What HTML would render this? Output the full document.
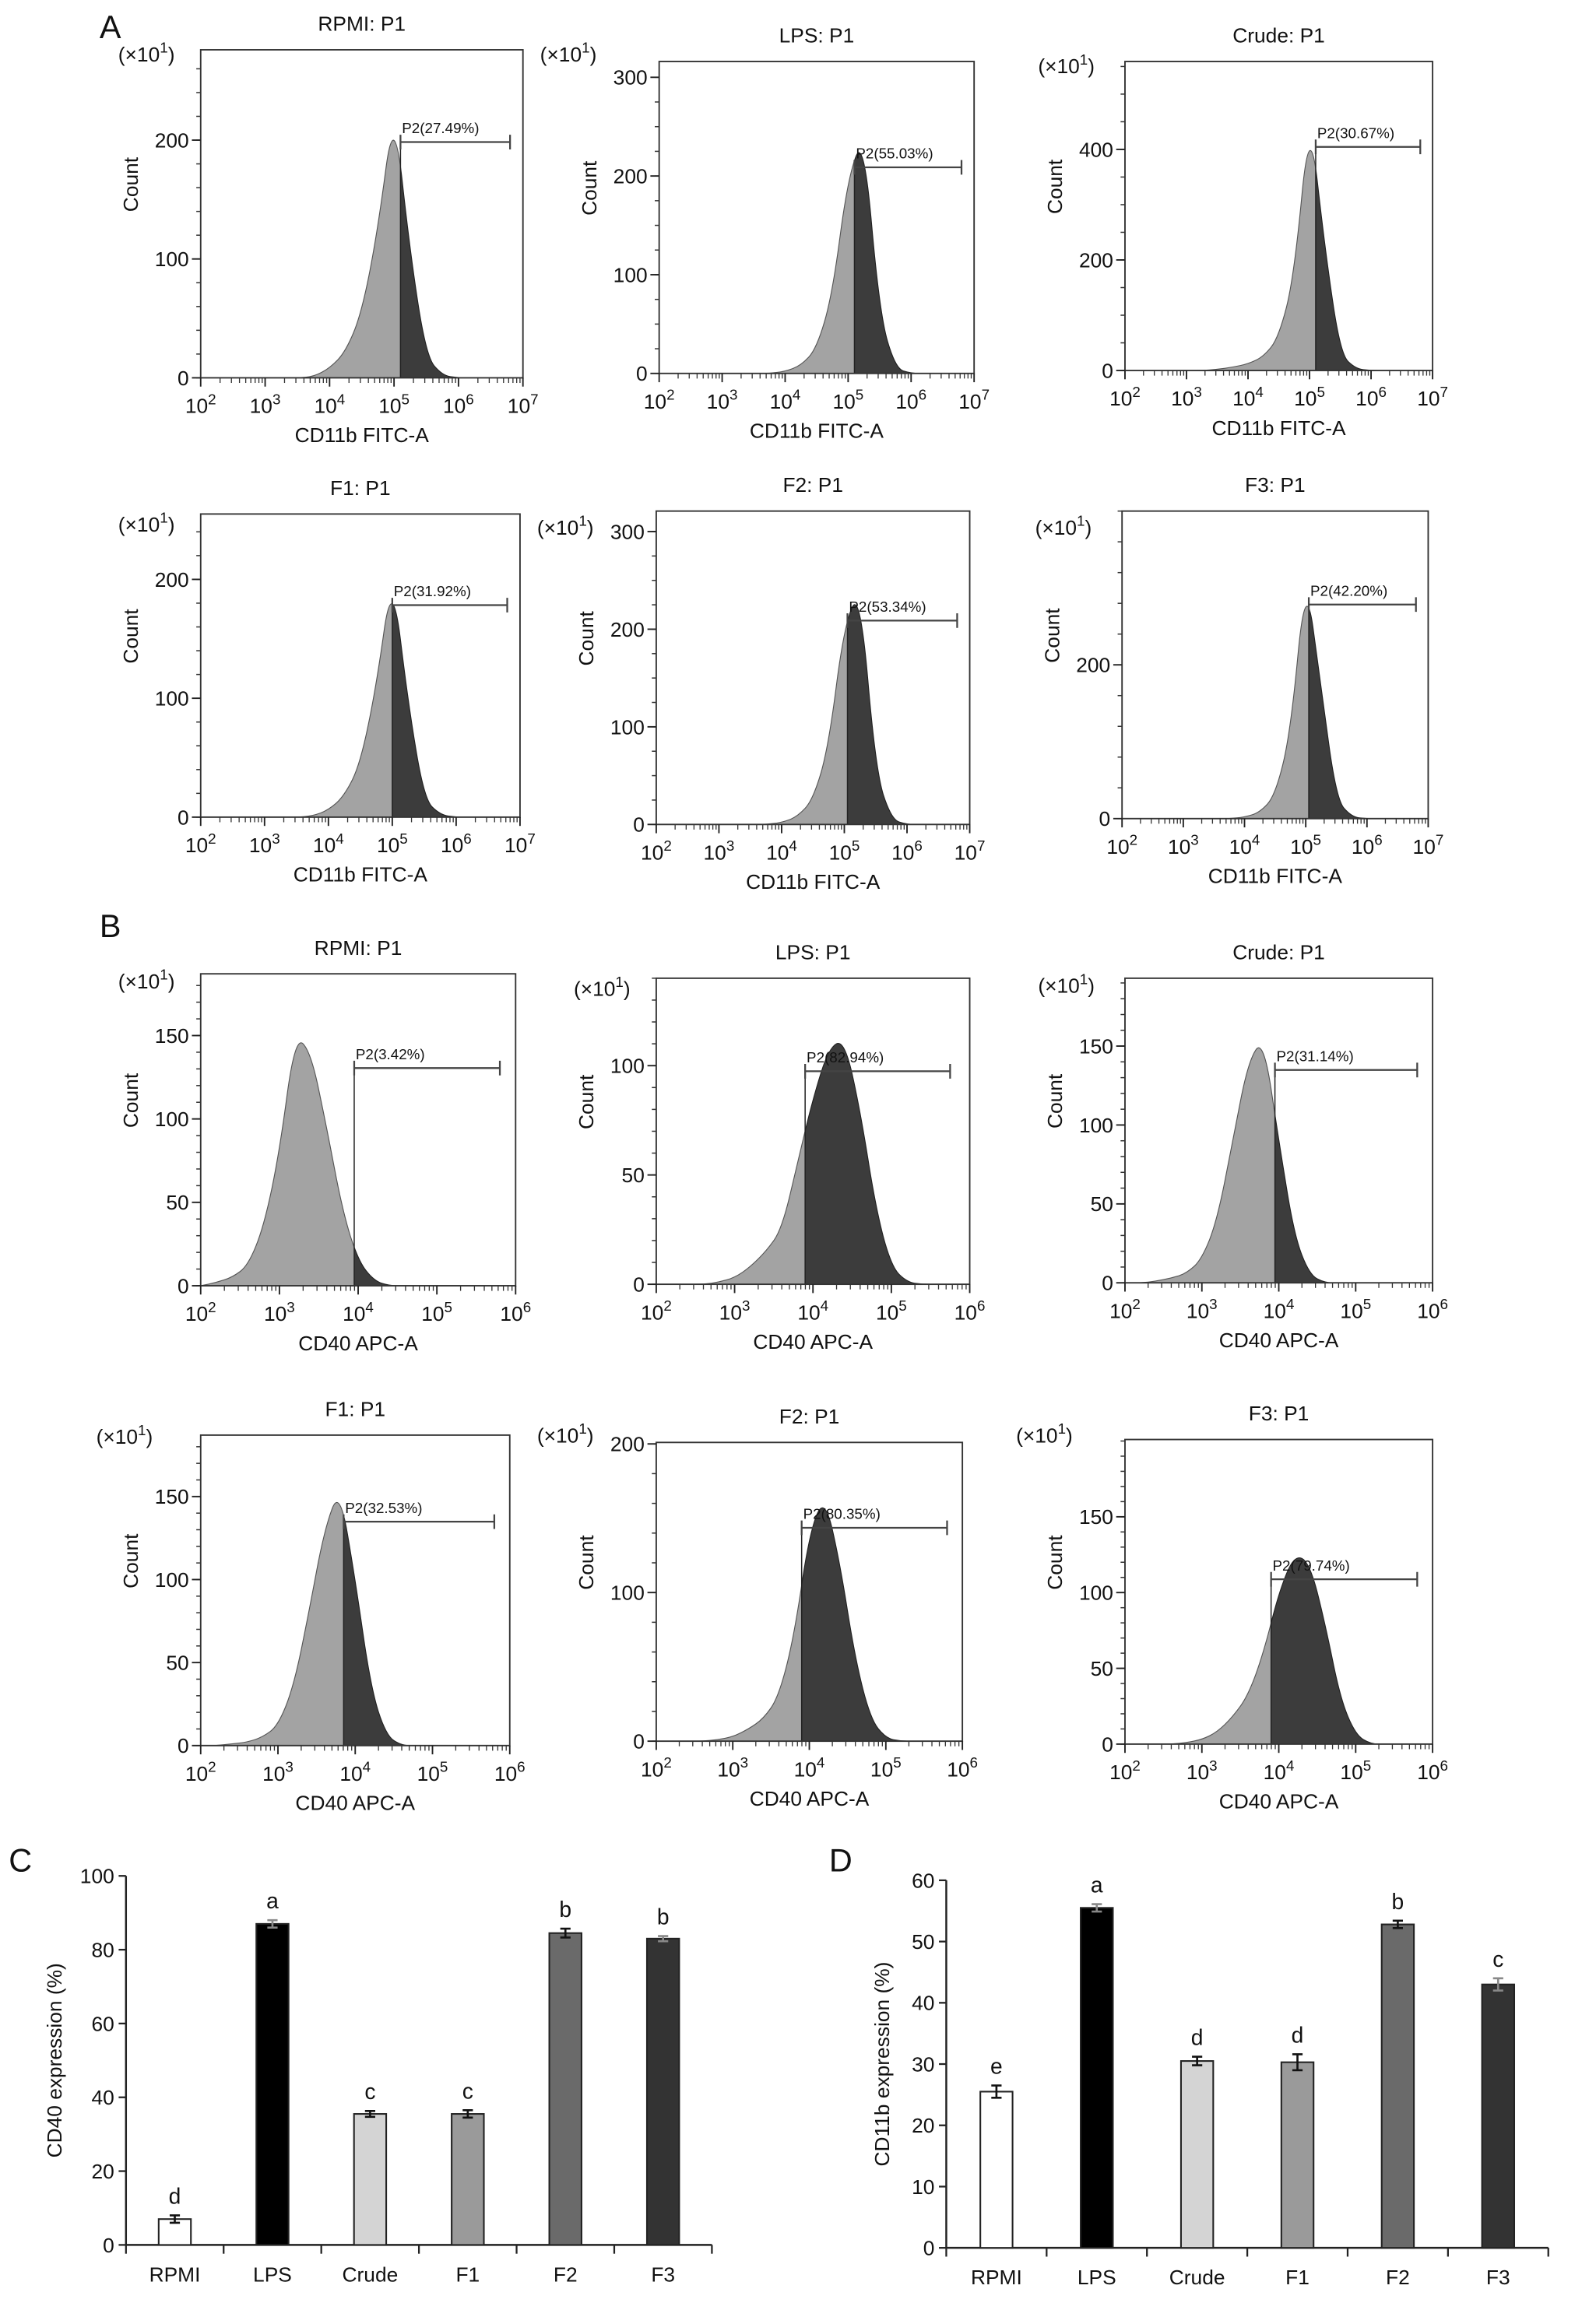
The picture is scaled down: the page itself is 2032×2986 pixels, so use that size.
<!DOCTYPE html>
<html><head><meta charset="utf-8"><style>
html,body{margin:0;padding:0;background:#fff}
svg{display:block}
text{font-family:"Liberation Sans",sans-serif;fill:#111}
</style></head><body>
<svg id="fig" width="2032" height="2986" viewBox="0 0 1080 1587" preserveAspectRatio="none" xmlns="http://www.w3.org/2000/svg">
<text x="68" y="26" font-size="22">A</text>
<text x="68" y="640" font-size="22">B</text>
<text x="6" y="1278" font-size="22">C</text>
<text x="566" y="1278" font-size="22">D</text>
</svg>
<script>
// ---- histogram data (log10 bins) ----
const binsA = [2,2.25,2.5,2.75,3,3.25,3.5,3.75,4,4.25,4.5,4.75,5,5.25,5.5,5.75,6,6.25,6.5,6.75,7];
const binsB = [2,2.2,2.4,2.6,2.8,3,3.2,3.4,3.6,3.8,4,4.2,4.4,4.6,4.8,5,5.2,5.4,5.6,5.8,6];
const rpmiA = [0,0,0,0,0,0,0,1,8,22,55,125,228,105,18,2,0,0,0,0,0];
const lpsA  = [0,0,0,0,0,0,0,0,2,8,25,80,200,240,60,5,0,0,0,0,0];
const crudeA= [0,0,0,0,0,0,2,6,12,25,60,170,465,220,30,3,0,0,0,0,0];
const f1A   = [0,0,0,0,0,0,0,1,6,18,45,110,205,95,15,2,0,0,0,0,0];
const f2A   = [0,0,0,0,0,0,0,0,2,8,25,80,205,240,55,5,0,0,0,0,0];
const f3A   = [0,0,0,0,0,0,0,0,2,8,30,110,320,170,25,2,0,0,0,0,0];
const rpmiB = [0,2,5,12,35,80,150,140,95,45,15,3,0,0,0,0,0,0,0,0,0];
const lpsB  = [0,0,0,0,1,3,8,15,25,55,85,108,112,80,35,8,1,0,0,0,0];
const crudeB= [0,0,1,3,6,15,40,90,140,155,90,30,5,0,0,0,0,0,0,0,0];
const f1B   = [0,0,1,2,5,12,35,80,130,155,100,35,6,0,0,0,0,0,0,0,0];
const f2B   = [0,0,0,0,1,3,8,15,30,70,140,165,120,55,15,2,0,0,0,0,0];
const f3B   = [0,0,0,0,1,3,8,18,32,60,100,125,120,80,30,6,0,0,0,0,0];
const gatePct = ["27.49%","55.03%","30.67%","31.92%","53.34%","42.20%","3.42%","82.94%","31.14%","32.53%","80.35%","79.74%"];
const titles = ["RPMI: P1","LPS: P1","Crude: P1","F1: P1","F2: P1","F3: P1","RPMI: P1","LPS: P1","Crude: P1","F1: P1","F2: P1","F3: P1"];
// ---- bar chart data ----
const barCats = ["RPMI","LPS","Crude","F1","F2","F3"];
const cd40Vals = [7,87,35.5,35.5,84.5,83];
const cd40Err = [1,1,0.8,1,1.2,0.7];
const cd40Letters = ["d","a","c","c","b","b"];
const cd11bVals = [25.5,55.5,30.5,30.3,52.8,43];
const cd11bErr = [1,0.6,0.7,1.3,0.6,1];
const cd11bLetters = ["e","a","d","d","b","c"];
const barColors = ["#ffffff","#000000","#d4d4d4","#9a9a9a","#6a6a6a","#333333"];

const NS="http://www.w3.org/2000/svg";
const svg=document.getElementById('fig');
function mk(tag,attrs,parent){const e=document.createElementNS(NS,tag);for(const k in attrs)e.setAttribute(k,attrs[k]);(parent||svg).appendChild(e);return e;}

const panels=[
 {x0:137,x1:357,y0:34,y1:258,ymax:276,ticks:[0,100,200],minor:20,bins:binsA,c:rpmiA,xmin:2,xmax:7,gate:5.1,gend:6.8,xl:"CD11b FITC-A",so:-37,sy:8},
 {x0:450,x1:665,y0:42,y1:255,ymax:316,ticks:[0,100,200,300],minor:25,bins:binsA,c:lpsA,xmin:2,xmax:7,gate:5.1,gend:6.8,xl:"CD11b FITC-A",so:-62,sy:0},
 {x0:768,x1:978,y0:42,y1:253,ymax:559,ticks:[0,200,400],minor:50,bins:binsA,c:crudeA,xmin:2,xmax:7,gate:5.1,gend:6.8,xl:"CD11b FITC-A",so:-40,sy:8},
 {x0:137,x1:355,y0:351,y1:558,ymax:255,ticks:[0,100,200],minor:20,bins:binsA,c:f1A,xmin:2,xmax:7,gate:5.0,gend:6.8,xl:"CD11b FITC-A",so:-37,sy:12},
 {x0:448,x1:662,y0:349,y1:563,ymax:321,ticks:[0,100,200,300],minor:25,bins:binsA,c:f2A,xmin:2,xmax:7,gate:5.05,gend:6.8,xl:"CD11b FITC-A",so:-62,sy:16},
 {x0:766,x1:975,y0:349,y1:559,ymax:400,ticks:[0,200],minor:40,bins:binsA,c:f3A,xmin:2,xmax:7,gate:5.05,gend:6.8,xl:"CD11b FITC-A",so:-40,sy:16},
 {x0:137,x1:352,y0:665,y1:878,ymax:187,ticks:[0,50,100,150],minor:10,bins:binsB,c:rpmiB,xmin:2,xmax:6,gate:3.95,gend:5.8,xl:"CD40 APC-A",so:-37,sy:10},
 {x0:448,x1:662,y0:668,y1:877,ymax:140,ticks:[0,50,100],minor:10,bins:binsB,c:lpsB,xmin:2,xmax:6,gate:3.9,gend:5.75,xl:"CD40 APC-A",so:-37,sy:12},
 {x0:768,x1:978,y0:668,y1:876,ymax:193,ticks:[0,50,100,150],minor:10,bins:binsB,c:crudeB,xmin:2,xmax:6,gate:3.95,gend:5.8,xl:"CD40 APC-A",so:-40,sy:10},
 {x0:137,x1:348,y0:980,y1:1192,ymax:187,ticks:[0,50,100,150],minor:10,bins:binsB,c:f1B,xmin:2,xmax:6,gate:3.85,gend:5.8,xl:"CD40 APC-A",so:-52,sy:6},
 {x0:448,x1:657,y0:985,y1:1189,ymax:201,ticks:[0,100,200],minor:20,bins:binsB,c:f2B,xmin:2,xmax:6,gate:3.9,gend:5.8,xl:"CD40 APC-A",so:-62,sy:0},
 {x0:768,x1:978,y0:983,y1:1191,ymax:201,ticks:[0,50,100,150],minor:10,bins:binsB,c:f3B,xmin:2,xmax:6,gate:3.9,gend:5.8,xl:"CD40 APC-A",so:-55,sy:2}
];

panels.forEach((p,i)=>{
  const g=mk('g',{});
  
  
  const sx=v=>p.x0+(v-p.xmin)/(p.xmax-p.xmin)*(p.x1-p.x0);
  const sy=v=>p.y1-v/p.ymax*(p.y1-p.y0);
  const id='clip'+i;
  const defs=mk('defs',{},g);
  const cl=mk('clipPath',{id:id+'l'},defs); mk('rect',{x:p.x0,y:p.y0,width:sx(p.gate)-p.x0,height:p.y1-p.y0},cl);
  const cr=mk('clipPath',{id:id+'r'},defs); mk('rect',{x:sx(p.gate),y:p.y0,width:p.x1-sx(p.gate),height:p.y1-p.y0},cr);
  // smooth path (monotone-ish quadratic midpoints)
  const pts=p.bins.map((b,k)=>[sx(b),sy(p.c[k])]);
  let d='M'+pts[0][0]+','+p.y1+' L'+pts[0][0].toFixed(1)+','+pts[0][1].toFixed(1);
  for(let k=1;k<pts.length;k++){
    const mx=(pts[k-1][0]+pts[k][0])/2, my=(pts[k-1][1]+pts[k][1])/2;
    d+=' Q'+pts[k-1][0].toFixed(1)+','+pts[k-1][1].toFixed(1)+' '+mx.toFixed(1)+','+my.toFixed(1);
  }
  const last=pts[pts.length-1];
  d+=' L'+last[0].toFixed(1)+','+last[1].toFixed(1)+' L'+last[0]+','+p.y1+' Z';
  const h1=mk('path',{d:d,fill:'#a3a3a3',stroke:'#555','stroke-width':0.6,'clip-path':'url(#'+id+'l)'},g);
  
  
  const h2=mk('path',{d:d,fill:'#3c3c3c',stroke:'#222','stroke-width':0.6,'clip-path':'url(#'+id+'r)'},g);
  
  
  let peak=Math.max(...p.c);
  const gy=sy(peak*0.87);
  mk('line',{x1:sx(p.gate),y1:sy(0),x2:sx(p.gate),y2:gy,stroke:'#222','stroke-width':0.8},g);
  const gl=mk('path',{d:`M${sx(p.gate)},${gy} H${sx(p.gend)} M${sx(p.gend)},${gy-5} V${gy+5} M${sx(p.gate)},${gy-5} V${gy+5}`,stroke:'#444','stroke-width':1.2,fill:'none'},g);
  
  
  const gt=mk('text',{x:sx(p.gate)+1,y:gy-6,'font-size':10},g); gt.textContent='P2('+gatePct[i]+')';
  
  
  mk('rect',{x:p.x0,y:p.y0,width:p.x1-p.x0,height:p.y1-p.y0,fill:'none',stroke:'#333','stroke-width':1},g);
  for(let v=0;v<=p.ymax;v+=p.minor){mk('line',{x1:p.x0-3,x2:p.x0,y1:sy(v),y2:sy(v),stroke:'#333','stroke-width':0.8},g);}
  p.ticks.forEach(v=>{mk('line',{x1:p.x0-6,x2:p.x0,y1:sy(v),y2:sy(v),stroke:'#222','stroke-width':1},g);
    const t=mk('text',{x:p.x0-8,y:sy(v)+5,'font-size':14,'text-anchor':'end'},g);t.textContent=v;
    
    });
  for(let e=p.xmin;e<=p.xmax;e++){
    mk('line',{x1:sx(e),x2:sx(e),y1:p.y1,y2:p.y1+6,stroke:'#222','stroke-width':1},g);
    if(e<p.xmax){for(let m=2;m<10;m++){const xx=sx(e+Math.log10(m));mk('line',{x1:xx,x2:xx,y1:p.y1,y2:p.y1+3.5,stroke:'#333','stroke-width':0.7},g);}}
    const t=mk('text',{x:sx(e),y:p.y1+24,'font-size':14,'text-anchor':'middle'},g);
    
    
    const a=mk('tspan',{},t);a.textContent='10';const b=mk('tspan',{dy:-6,'font-size':10},t);b.textContent=String(e);
  }
  const tt=mk('text',{x:(p.x0+p.x1)/2,y:p.y0-13,'font-size':14,'text-anchor':'middle'},g);tt.textContent=titles[i];
  
  
  const xl=mk('text',{x:(p.x0+p.x1)/2,y:p.y1+44,'font-size':14,'text-anchor':'middle'},g);xl.textContent=p.xl;
  
  
  const yl=mk('text',{x:0,y:0,'font-size':14,'text-anchor':'middle',transform:`translate(${p.x0-43},${(p.y0+p.y1)/2-20}) rotate(-90)`},g);yl.textContent='Count';
  
  
  const sc=mk('text',{x:p.x0+p.so,y:p.y0+p.sy,'font-size':14,'text-anchor':'middle'},g);
  
  
  const s1=mk('tspan',{},sc);s1.textContent='(\u00d710';const s2=mk('tspan',{dy:-6,'font-size':10},sc);s2.textContent='1';const s3=mk('tspan',{dy:6},sc);s3.textContent=')';
});

function barChart(o){
  const g=mk('g',{});
  
  
  const sy=v=>o.y0-v/o.ymax*(o.y0-o.ytop);
  const n=o.cats.length, step=(o.xend-o.ax)/n;
  const cx=k=>o.ax+step*(k+0.5);
  mk('line',{x1:o.ax,x2:o.ax,y1:o.ytop,y2:o.y0,stroke:'#222','stroke-width':1.3},g);
  mk('line',{x1:o.ax,x2:o.xend,y1:o.y0,y2:o.y0,stroke:'#222','stroke-width':1.3},g);
  for(let k=0;k<=n;k++){mk('line',{x1:o.ax+step*k,x2:o.ax+step*k,y1:o.y0,y2:o.y0+6,stroke:'#222','stroke-width':1.2},g);}
  for(let v=0;v<=o.ymax;v+=o.tstep){mk('line',{x1:o.ax-5,x2:o.ax,y1:sy(v),y2:sy(v),stroke:'#222','stroke-width':1.2},g);
    const t=mk('text',{x:o.ax-8,y:sy(v)+5,'font-size':14,'text-anchor':'end'},g);t.textContent=v;
    
    }
  o.cats.forEach((c,k)=>{
    const v=o.vals[k], e=o.err[k];
    const r=mk('rect',{x:cx(k)-11,y:sy(v),width:22,height:o.y0-sy(v),fill:barColors[k],stroke:'#222','stroke-width':1.1},g);
    
    
    mk('path',{d:`M${cx(k)},${sy(v+e)} V${sy(v-e)} M${cx(k)-3.5},${sy(v+e)} H${cx(k)+3.5} M${cx(k)-3.5},${sy(v-e)} H${cx(k)+3.5}`,stroke:k==1||k==5?'#888':'#111','stroke-width':1.4,fill:'none'},g);
    const l=mk('text',{x:cx(k),y:sy(v+e)-8,'font-size':15,'text-anchor':'middle'},g);l.textContent=o.letters[k];
    
    
    const xl=mk('text',{x:cx(k),y:o.y0+25,'font-size':14,'text-anchor':'middle'},g);xl.textContent=c;
    
    
  });
  const yt=mk('text',{x:0,y:0,'font-size':14,'text-anchor':'middle',transform:`translate(${o.ytx},${(o.ytop+o.y0)/2}) rotate(-90)`},g);yt.textContent=o.ytitle;
  
  
}
barChart({name:'cd40-bar-chart',cats:barCats,vals:cd40Vals,err:cd40Err,letters:cd40Letters,ax:86,xend:486,y0:1533,ytop:1281,ymax:100,tstep:20,ytx:42,ytitle:'CD40 expression (%)'});
barChart({name:'cd11b-bar-chart',cats:barCats,vals:cd11bVals,err:cd11bErr,letters:cd11bLetters,ax:646,xend:1057,y0:1535,ytop:1284,ymax:60,tstep:10,ytx:607,ytitle:'CD11b expression (%)'});
</script>
</body></html>
